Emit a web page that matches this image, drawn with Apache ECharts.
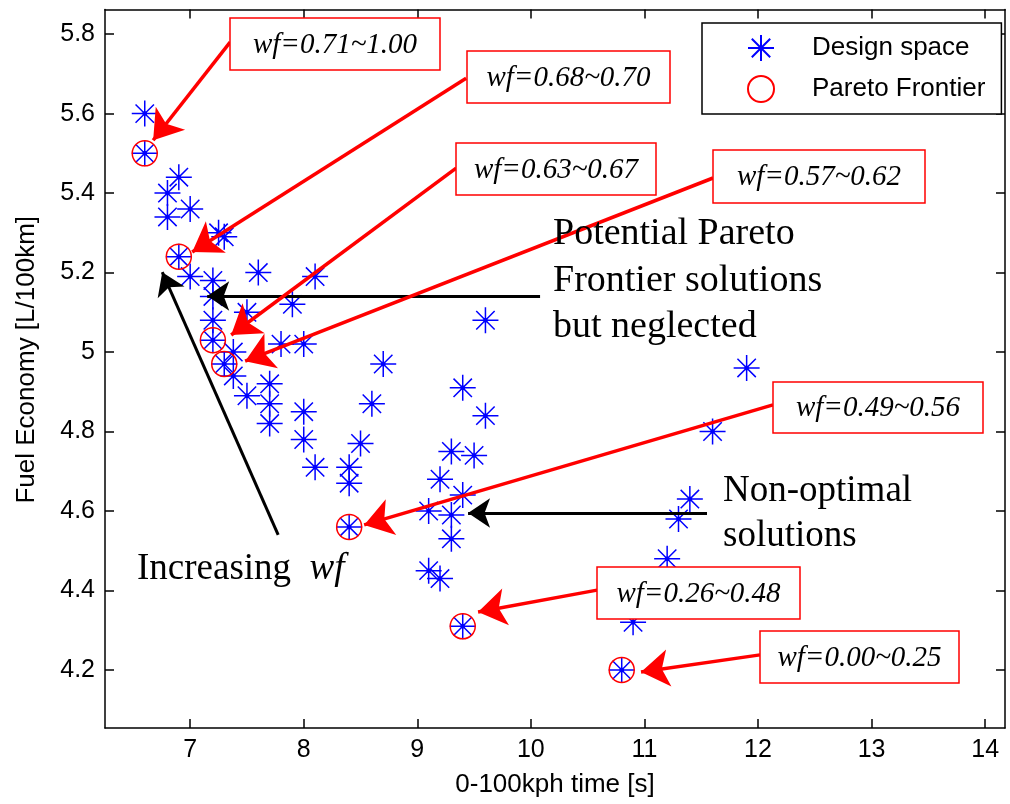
<!DOCTYPE html>
<html>
<head>
<meta charset="utf-8">
<script src="https://cdn.jsdelivr.net/npm/echarts@6/dist/echarts.min.js"></script>
<style>
  html, body { margin: 0; padding: 0; background: #fff; }
  #chart { width: 1010px; height: 804px; }
</style>
</head>
<body>
<div id="chart"></div>
<script>
// design space points (0-100kph time [s], fuel economy [L/100km])
const designX = [6.6, 6.6, 6.9, 6.8, 6.8, 7.0, 7.25, 7.3, 6.9, 7.0, 7.2, 7.6, 8.1, 7.2, 7.5, 7.9,
  7.2, 7.2, 7.38, 7.3, 7.8, 8.0, 7.38, 7.5, 7.7, 7.7, 7.7, 8.0, 8.0, 8.1, 8.7, 8.6, 8.5, 8.4,
  8.4, 8.4, 9.6, 9.4, 9.6, 9.3, 9.5, 9.2, 9.4, 9.1, 9.3, 9.3, 9.1, 9.2, 9.4, 11.9, 11.6, 11.4,
  11.3, 11.2, 10.9, 10.8];
const designY = [5.60, 5.50, 5.44, 5.40, 5.34, 5.36, 5.30, 5.29, 5.24, 5.19, 5.18, 5.20, 5.19, 5.14, 5.10, 5.12,
  5.08, 5.03, 5.00, 4.97, 5.02, 5.02, 4.94, 4.89, 4.92, 4.87, 4.82, 4.85, 4.78, 4.71, 4.97, 4.87, 4.77, 4.71,
  4.67, 4.56, 5.08, 4.91, 4.84, 4.75, 4.74, 4.68, 4.64, 4.60, 4.59, 4.53, 4.45, 4.43, 4.31, 4.96, 4.80, 4.63,
  4.58, 4.48, 4.32, 4.20];

// pareto frontier points
const paretoX = [6.6, 6.9, 7.2, 7.3, 8.4, 9.4, 10.8];
const paretoY = [5.50, 5.24, 5.03, 4.97, 4.56, 4.31, 4.20];

const xTicks = [7, 8, 9, 10, 11, 12, 13, 14];
const yTicks = [4.2, 4.4, 4.6, 4.8, 5.0, 5.2, 5.4, 5.6, 5.8];

const wfLabels = ['wf=0.71~1.00', 'wf=0.68~0.70', 'wf=0.63~0.67', 'wf=0.57~0.62',
  'wf=0.49~0.56', 'wf=0.26~0.48', 'wf=0.00~0.25'];

// annotation layout
// red arrows in data units: tail x, tail y, tip x, tip y
const redArrows = [
  [7.352, 5.780, 6.674, 5.533],
  [9.430, 5.689, 7.018, 5.252],
  [9.342, 5.463, 7.361, 5.043],
  [11.604, 5.438, 7.484, 4.977],
  [12.132, 4.867, 8.532, 4.565],
  [10.583, 4.401, 9.535, 4.346],
  [12.018, 4.238, 10.970, 4.195],
];
const blackArrows = [
  [10.081, 5.141, 7.150, 5.141],
  [7.775, 4.540, 6.754, 5.201],
  [11.551, 4.595, 9.447, 4.595],
];
// label boxes in pixels: x, y, w, h
const wfBoxes = [
  [230, 18, 210, 52],
  [467, 51, 203, 52],
  [456, 143, 200, 52],
  [713, 150, 212, 53],
  [773, 382, 210, 51],
  [597, 567, 203, 52],
  [760, 631, 199, 52],
];

const sans = '"Liberation Sans", Arial, sans-serif';
const serif = '"Liberation Serif", "Times New Roman", serif';
const starPath = 'path://M0,13L26,13M13,0L13,26M3.8,3.8L22.2,22.2M22.2,3.8L3.8,22.2M11.5,11.5L14.5,11.5L14.5,14.5L11.5,14.5Z';

const toPairs = (xs, ys) => xs.map((x, i) => [x, ys[i]]);
const toLines = (list) => list.map((a) => [{ coord: [a[0], a[1]] }, { coord: [a[2], a[3]] }]);

const axisCommon = {
  type: 'value',
  axisLine: { show: true, onZero: false, lineStyle: { color: '#000', width: 1.5 } },
  axisTick: { show: true, inside: true, length: 9, lineStyle: { color: '#000', width: 1.5 } },
  splitLine: { show: false },
};

const fmt = (v) => String(+Number(v).toFixed(1));

const graphics = [];
wfBoxes.forEach((b, i) => {
  graphics.push({
    type: 'rect', z: 100,
    shape: { x: b[0], y: b[1], width: b[2], height: b[3] },
    style: { fill: '#fff', stroke: '#ff0000', lineWidth: 1.5 },
  });
  graphics.push({
    type: 'text', z: 101,
    x: b[0] + b[2] / 2, y: b[1] + b[3] / 2 + 1,
    style: {
      text: wfLabels[i], fill: '#000', align: 'center', verticalAlign: 'middle',
      fontFamily: serif, fontSize: 29, fontStyle: 'italic',
    },
  });
});
graphics.push({
  type: 'text', z: 101, x: 553, y: 211,
  style: {
    text: 'Potential Pareto\nFrontier solutions\nbut neglected', fill: '#000',
    fontFamily: serif, fontSize: 38, lineHeight: 46.5, verticalAlign: 'top',
  },
});
graphics.push({
  type: 'text', z: 101, x: 723, y: 469,
  style: {
    text: 'Non-optimal\nsolutions', fill: '#000',
    fontFamily: serif, fontSize: 37, lineHeight: 45, verticalAlign: 'top',
  },
});
graphics.push({
  type: 'text', z: 101, x: 137, y: 569,
  style: {
    text: 'Increasing  {i|wf}', fill: '#000', verticalAlign: 'middle',
    fontFamily: serif, fontSize: 37,
    rich: { i: { fontFamily: serif, fontSize: 37, fontStyle: 'italic', fill: '#000' } },
  },
});

const chart = echarts.init(document.getElementById('chart'));
chart.setOption({
  animation: false,
  backgroundColor: '#fff',
  grid: { left: 105, right: 5, top: 9.5, bottom: 76 },
  legend: {
    orient: 'vertical',
    left: 702, top: 23,
    padding: [11, 16, 11, 45],
    itemWidth: 26, itemHeight: 26, itemGap: 13,
    borderColor: '#000', borderWidth: 1.5, backgroundColor: '#fff',
    textStyle: { fontFamily: sans, fontSize: 26, color: '#000', padding: [0, 0, 0, 33] },
    data: [
      { name: 'Design space', icon: starPath },
      { name: 'Pareto Frontier', icon: 'circle' },
    ],
  },
  xAxis: [
    {
      ...axisCommon,
      position: 'bottom', min: 6.25, max: 14.175,
      name: '0-100kph time [s]', nameLocation: 'middle', nameGap: 44,
      nameTextStyle: { fontFamily: sans, fontSize: 26, color: '#000' },
      axisTick: { ...axisCommon.axisTick, customValues: xTicks },
      axisLabel: { customValues: xTicks, margin: 10, fontFamily: sans, fontSize: 25, color: '#000', formatter: fmt },
    },
    {
      ...axisCommon,
      position: 'top', min: 6.25, max: 14.175,
      axisTick: { ...axisCommon.axisTick, customValues: xTicks },
      axisLabel: { show: false },
    },
  ],
  yAxis: [
    {
      ...axisCommon,
      position: 'left', min: 4.054, max: 5.862,
      name: 'Fuel Economy [L/100km]', nameLocation: 'middle', nameGap: 65,
      nameTextStyle: { fontFamily: sans, fontSize: 26, color: '#000', padding: [0, 0, 0, 18] },
      axisTick: { ...axisCommon.axisTick, customValues: yTicks },
      axisLabel: { customValues: yTicks, margin: 10, fontFamily: sans, fontSize: 25, color: '#000', formatter: fmt },
    },
    {
      ...axisCommon,
      position: 'right', min: 4.054, max: 5.862,
      axisTick: { ...axisCommon.axisTick, customValues: yTicks },
      axisLabel: { show: false },
    },
  ],
  series: [
    {
      name: 'Design space',
      type: 'scatter',
      silent: true,
      symbol: starPath,
      symbolSize: 26,
      itemStyle: { color: '#0000ff', borderColor: '#0000ff', borderWidth: 1.5, opacity: 1 },
      data: toPairs(designX, designY),
      markLine: {
        silent: true,
        symbol: ['none', 'arrow'],
        symbolSize: 22,
        label: { show: false },
        lineStyle: { color: '#000', width: 3, type: 'solid' },
        emphasis: { disabled: true },
        data: toLines(blackArrows),
      },
    },
    {
      name: 'Pareto Frontier',
      type: 'scatter',
      silent: true,
      symbol: 'circle',
      symbolSize: 25,
      itemStyle: { color: 'rgba(0,0,0,0)', borderColor: '#ff0000', borderWidth: 1.5, opacity: 1 },
      data: toPairs(paretoX, paretoY),
      markLine: {
        silent: true,
        symbol: ['none', 'arrow'],
        symbolSize: 28,
        label: { show: false },
        lineStyle: { color: '#ff0000', width: 3.5, type: 'solid' },
        emphasis: { disabled: true },
        data: toLines(redArrows),
      },
    },
  ],
  graphic: graphics,
});
</script>
</body>
</html>
